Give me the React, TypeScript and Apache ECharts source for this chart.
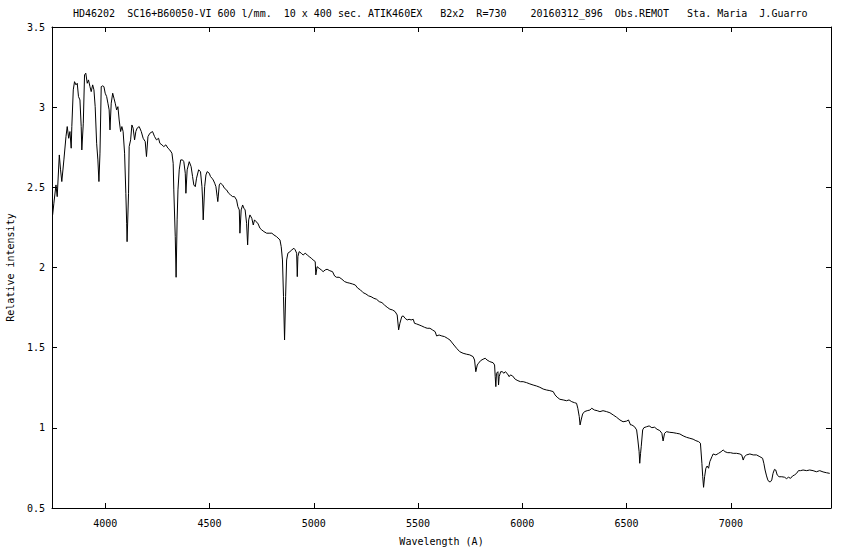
import React, { useEffect, useRef } from "react";
import * as echarts from "echarts";

const titleText =
  "HD46202  SC16+B60050-VI 600 l/mm.  10 x 400 sec. ATIK460EX   B2x2  R=730    20160312_896  Obs.REMOT   Sta. Maria  J.Guarro";
const xAxisName = "Wavelength (A)";
const yAxisName = "Relative intensity";

const xTicks = [4000, 4500, 5000, 5500, 6000, 6500, 7000];
const xMin = 3745;
const xMax = 7480;
const yMin = 0.5;
const yMax = 3.5;
const yStep = 0.5;

const wavelengths = [
  3748, 3754, 3764, 3770, 3780, 3786, 3792, 3802, 3812, 3818,
  3825, 3831, 3837, 3840, 3847, 3853, 3860, 3866, 3872, 3879,
  3885, 3888, 3895, 3901, 3907, 3914, 3920, 3927, 3933, 3940,
  3946, 3952, 3959, 3965, 3970, 3975, 3981, 3988, 3994, 4000,
  4007, 4013, 4019, 4023, 4029, 4036, 4042, 4048, 4055, 4061,
  4067, 4074, 4080, 4086, 4093, 4099, 4103, 4105, 4112, 4115,
  4122, 4128, 4134, 4141, 4147, 4153, 4163, 4173, 4182, 4192,
  4198, 4205, 4214, 4227, 4237, 4246, 4256, 4262, 4272, 4281,
  4291, 4301, 4310, 4320, 4326, 4329, 4336, 4340, 4345, 4349,
  4355, 4362, 4371, 4377, 4384, 4387, 4393, 4403, 4412, 4419,
  4425, 4432, 4438, 4448, 4457, 4464, 4467, 4470, 4477, 4483,
  4489, 4499, 4505, 4512, 4518, 4525, 4531, 4537, 4540, 4547,
  4553, 4563, 4572, 4582, 4592, 4601, 4611, 4620, 4630, 4636,
  4643, 4646, 4652, 4659, 4665, 4671, 4678, 4683, 4688, 4694,
  4703, 4710, 4716, 4723, 4732, 4742, 4751, 4761, 4774, 4786,
  4799, 4809, 4822, 4838, 4844, 4850, 4855, 4860, 4865, 4870,
  4876, 4886, 4895, 4905, 4911, 4918, 4921, 4924, 4930, 4940,
  4949, 4959, 4969, 4978, 4988, 4997, 5007, 5010, 5016, 5026,
  5036, 5045, 5055, 5064, 5077, 5090, 5100, 5109, 5122, 5135,
  5148, 5160, 5173, 5186, 5199, 5211, 5224, 5237, 5250, 5263,
  5275, 5288, 5301, 5314, 5327, 5339, 5352, 5365, 5378, 5390,
  5400, 5407, 5413, 5422, 5429, 5438, 5448, 5457, 5467, 5477,
  5483, 5493, 5505, 5518, 5531, 5544, 5557, 5570, 5582, 5589,
  5601, 5614, 5627, 5640, 5653, 5668, 5685, 5700, 5716, 5733,
  5748, 5764, 5771, 5777, 5784, 5790, 5800, 5812, 5822, 5831,
  5844, 5860, 5867, 5870, 5873, 5876, 5883, 5886, 5889, 5896,
  5905, 5911, 5918, 5927, 5937, 5943, 5953, 5966, 5979, 5991,
  6004, 6020, 6036, 6052, 6068, 6084, 6100, 6116, 6132, 6148,
  6157, 6167, 6180, 6196, 6212, 6224, 6237, 6250, 6260, 6266,
  6273, 6277, 6282, 6289, 6298, 6311, 6324, 6333, 6346, 6359,
  6372, 6387, 6404, 6420, 6436, 6452, 6468, 6483, 6500, 6509,
  6519, 6525, 6538, 6548, 6554, 6560, 6563, 6567, 6570, 6577,
  6583, 6596, 6608, 6621, 6634, 6646, 6659, 6669, 6675, 6682,
  6691, 6707, 6723, 6739, 6755, 6771, 6787, 6803, 6819, 6832,
  6845, 6854, 6861, 6865, 6869, 6874, 6880, 6886, 6893, 6899,
  6909, 6915, 6928, 6941, 6953, 6963, 6972, 6985, 6998, 7011,
  7027, 7043, 7052, 7059, 7065, 7075, 7091, 7107, 7123, 7139,
  7152, 7158, 7164, 7171, 7177, 7183, 7190, 7196, 7202, 7209,
  7215, 7222, 7231, 7244, 7257, 7267, 7276, 7286, 7296, 7305,
  7315, 7324, 7334, 7346, 7363, 7378, 7394, 7410, 7426, 7442,
  7458, 7474,
];

const intensities = [
  2.328, 2.401, 2.515, 2.442, 2.702, 2.609, 2.536, 2.671, 2.816, 2.879,
  2.806, 2.848, 2.744, 2.879, 3.108, 3.159, 3.139, 3.149, 3.066, 3.045,
  2.879, 2.733, 2.900, 3.201, 3.212, 3.149, 3.170, 3.128, 3.097, 3.139,
  3.108, 3.003, 2.775, 2.671, 2.536, 2.713, 3.128, 3.133, 3.128, 3.087,
  3.066, 3.025, 2.983, 2.858, 3.025, 3.087, 3.056, 3.025, 2.983, 3.003,
  2.920, 2.848, 2.879, 2.848, 2.713, 2.463, 2.276, 2.161, 2.463, 2.754,
  2.796, 2.889, 2.869, 2.796, 2.848, 2.869, 2.879, 2.848, 2.806, 2.785,
  2.692, 2.816, 2.837, 2.848, 2.816, 2.796, 2.806, 2.775, 2.765, 2.754,
  2.765, 2.744, 2.733, 2.713, 2.650, 2.484, 2.192, 1.939, 2.297, 2.484,
  2.609, 2.671, 2.671, 2.660, 2.588, 2.463, 2.609, 2.660, 2.629, 2.567,
  2.515, 2.504, 2.557, 2.609, 2.598, 2.504, 2.421, 2.297, 2.504, 2.577,
  2.598, 2.588, 2.567, 2.557, 2.546, 2.526, 2.504, 2.442, 2.411, 2.515,
  2.526, 2.515, 2.494, 2.484, 2.463, 2.453, 2.442, 2.442, 2.421, 2.380,
  2.359, 2.214, 2.359, 2.390, 2.370, 2.359, 2.276, 2.141, 2.297, 2.328,
  2.307, 2.265, 2.297, 2.286, 2.276, 2.245, 2.234, 2.224, 2.214, 2.214,
  2.214, 2.203, 2.192, 2.172, 2.130, 2.047, 1.818, 1.548, 1.818, 2.047,
  2.089, 2.099, 2.110, 2.120, 2.110, 2.089, 1.943, 2.068, 2.099, 2.089,
  2.078, 2.089, 2.078, 2.068, 2.058, 2.047, 2.037, 1.954, 2.005, 1.995,
  1.985, 1.974, 1.985, 1.989, 1.980, 1.974, 1.947, 1.939, 1.939, 1.927,
  1.912, 1.906, 1.902, 1.897, 1.891, 1.871, 1.860, 1.843, 1.835, 1.823,
  1.818, 1.808, 1.802, 1.787, 1.781, 1.766, 1.752, 1.740, 1.735, 1.725,
  1.704, 1.611, 1.652, 1.694, 1.698, 1.683, 1.673, 1.677, 1.673, 1.677,
  1.652, 1.648, 1.642, 1.635, 1.627, 1.621, 1.621, 1.610, 1.600, 1.573,
  1.579, 1.573, 1.569, 1.559, 1.548, 1.523, 1.496, 1.475, 1.465, 1.459,
  1.455, 1.444, 1.423, 1.350, 1.392, 1.403, 1.419, 1.428, 1.434, 1.423,
  1.413, 1.406, 1.392, 1.319, 1.257, 1.340, 1.350, 1.267, 1.319, 1.350,
  1.350, 1.340, 1.350, 1.340, 1.319, 1.330, 1.324, 1.303, 1.294, 1.288,
  1.288, 1.282, 1.274, 1.267, 1.261, 1.253, 1.242, 1.236, 1.232, 1.226,
  1.205, 1.191, 1.178, 1.174, 1.169, 1.174, 1.163, 1.157, 1.153, 1.122,
  1.070, 1.018, 1.049, 1.086, 1.101, 1.107, 1.111, 1.122, 1.111, 1.107,
  1.101, 1.107, 1.101, 1.094, 1.080, 1.066, 1.049, 1.038, 1.042, 1.049,
  1.018, 1.018, 1.007, 0.987, 0.924, 0.851, 0.779, 0.841, 0.882, 0.987,
  1.001, 1.007, 1.012, 1.001, 1.004, 0.991, 0.983, 0.966, 0.918, 0.966,
  0.976, 0.972, 0.970, 0.966, 0.962, 0.950, 0.941, 0.935, 0.929, 0.920,
  0.914, 0.904, 0.779, 0.695, 0.629, 0.695, 0.748, 0.762, 0.748, 0.789,
  0.820, 0.837, 0.831, 0.841, 0.851, 0.862, 0.851, 0.845, 0.845, 0.841,
  0.841, 0.837, 0.831, 0.799, 0.820, 0.831, 0.837, 0.831, 0.831, 0.820,
  0.810, 0.779, 0.737, 0.700, 0.675, 0.664, 0.664, 0.675, 0.716, 0.741,
  0.737, 0.706, 0.695, 0.695, 0.692, 0.683, 0.692, 0.685, 0.700, 0.706,
  0.716, 0.733, 0.733, 0.737, 0.733, 0.737, 0.733, 0.726, 0.733, 0.725,
  0.720, 0.716,
];

const FONT = "DejaVu Sans Mono";

export default function App() {
  const ref = useRef<HTMLDivElement>(null);

  useEffect(() => {
    if (!ref.current) return;
    const chart = echarts.init(ref.current, null, { renderer: "svg" });
    const data = wavelengths.map((w, i) => [w, intensities[i]]);
    const lineColor = "#000";
    const labelStyle = { color: "#000", fontFamily: FONT, fontSize: 10 };

    const xCommon = {
      type: "value" as const,
      min: xMin,
      max: xMax,
      splitLine: { show: false },
      axisLine: { show: true, onZero: false, lineStyle: { color: lineColor, width: 1 } },
    };
    const yCommon = {
      type: "value" as const,
      min: yMin,
      max: yMax,
      interval: yStep,
      splitLine: { show: false },
      axisLine: { show: true, onZero: false, lineStyle: { color: lineColor, width: 1 } },
    };

    chart.setOption({
      animation: false,
      backgroundColor: "#fff",
      title: {
        text: titleText,
        left: 73,
        top: 8,
        padding: 0,
        textStyle: { color: "#000", fontFamily: FONT, fontSize: 10, fontWeight: "normal" },
      },
      grid: {
        left: 52,
        right: 19,
        top: 27,
        bottom: 42,
        containLabel: false,
        outerBoundsMode: "none",
      },
      xAxis: [
        {
          ...xCommon,
          position: "bottom",
          name: xAxisName,
          nameLocation: "middle",
          nameGap: 28,
          nameTextStyle: labelStyle,
          axisTick: { show: true, inside: true, length: 5, customValues: xTicks, lineStyle: { color: lineColor } },
          axisLabel: {
            ...labelStyle,
            margin: 10,
            customValues: xTicks,
            formatter: (v: number) => String(v),
          },
        },
        {
          ...xCommon,
          position: "top",
          axisTick: { show: true, inside: true, length: 5, customValues: xTicks, lineStyle: { color: lineColor } },
          axisLabel: { show: false },
        },
      ],
      yAxis: [
        {
          ...yCommon,
          position: "left",
          name: yAxisName,
          nameLocation: "middle",
          nameGap: 37,
          nameRotate: 90,
          nameTextStyle: labelStyle,
          axisTick: { show: true, inside: true, length: 5, lineStyle: { color: lineColor } },
          axisLabel: { ...labelStyle, margin: 7, formatter: (v: number) => String(v) },
        },
        {
          ...yCommon,
          position: "right",
          axisTick: { show: true, inside: true, length: 5, lineStyle: { color: lineColor } },
          axisLabel: { show: false },
        },
      ],
      series: [
        {
          type: "line",
          xAxisIndex: 0,
          yAxisIndex: 0,
          data,
          showSymbol: false,
          symbol: "none",
          lineStyle: { color: lineColor, width: 1 },
          silent: true,
        },
      ],
    });

    return () => chart.dispose();
  }, []);

  return (
    <div
      ref={ref}
      style={{ position: "fixed", left: 0, top: 0, width: 850, height: 550, background: "#fff" }}
    />
  );
}
